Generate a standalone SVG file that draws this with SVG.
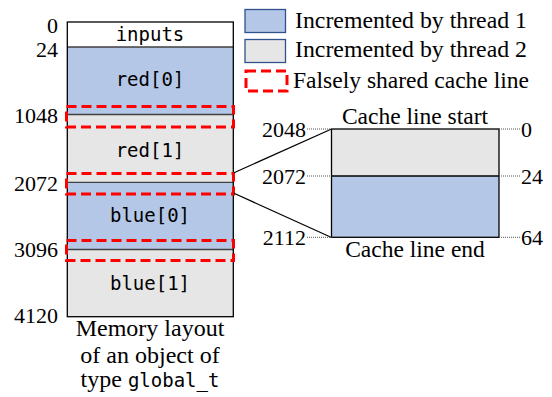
<svg xmlns="http://www.w3.org/2000/svg" width="552" height="397" viewBox="0 0 552 397">
<style>
.serif{font-family:"Liberation Serif","Times New Roman",serif;fill:#000}
.mono{font-family:"DejaVu Sans Mono","Liberation Mono",monospace;fill:#000}
.blue{fill:#B4C7E7}
.gray{fill:#E7E6E6}
.sep{stroke:#404040;stroke-width:1.3}
.dash{fill:none;stroke:#FF0000;stroke-width:3;stroke-dasharray:10 5}
.dot{stroke:#555;stroke-width:1;stroke-dasharray:1 1}
.conn{stroke:#000;stroke-width:1.2;fill:none}
</style>
<rect width="552" height="397" fill="#fff"/>

<g id="legend">
  <rect x="245" y="9.5" width="40.5" height="23" class="blue" stroke="#2F528F" stroke-width="1.3"/>
  <text x="295" y="27.5" class="serif" font-size="22.5" textLength="232" lengthAdjust="spacingAndGlyphs">Incremented by thread 1</text>
  <rect x="245" y="39.5" width="40.5" height="23" class="gray" stroke="#2F528F" stroke-width="1.3"/>
  <text x="295" y="57" class="serif" font-size="22.5" textLength="232" lengthAdjust="spacingAndGlyphs">Incremented by thread 2</text>
  <rect x="246" y="71" width="41" height="20" class="dash"/>
  <text x="293" y="87.5" class="serif" font-size="22.5" textLength="236" lengthAdjust="spacingAndGlyphs">Falsely shared cache line</text>
</g>

<g id="memory-layout">
  <rect x="67.3" y="22" width="166" height="25" fill="#fff"/>
  <rect x="67.3" y="47" width="166" height="67.5" class="blue"/>
  <rect x="67.3" y="114.5" width="166" height="67.8" class="gray"/>
  <rect x="67.3" y="182.3" width="166" height="67.2" class="blue"/>
  <rect x="67.3" y="249.5" width="166" height="67.2" class="gray"/>
  <line x1="67.3" y1="47" x2="233.3" y2="47" class="sep"/>
  <line x1="67.3" y1="114.5" x2="233.3" y2="114.5" class="sep"/>
  <line x1="67.3" y1="182.3" x2="233.3" y2="182.3" class="sep"/>
  <line x1="67.3" y1="249.5" x2="233.3" y2="249.5" class="sep"/>
  <rect x="67.3" y="22" width="166" height="294.7" fill="none" stroke="#000" stroke-width="1.3"/>
  <text x="150" y="41" class="mono" font-size="19" text-anchor="middle">inputs</text>
  <text x="150" y="86" class="mono" font-size="19" text-anchor="middle">red[0]</text>
  <text x="150" y="157" class="mono" font-size="19" text-anchor="middle">red[1]</text>
  <text x="150" y="222" class="mono" font-size="19" text-anchor="middle">blue[0]</text>
  <text x="150" y="290" class="mono" font-size="19" text-anchor="middle">blue[1]</text>
  <g class="serif" font-size="22" text-anchor="end">
    <text x="58" y="33">0</text>
    <text x="58" y="57">24</text>
    <text x="58" y="123">1048</text>
    <text x="58" y="191">2072</text>
    <text x="58" y="257">3096</text>
    <text x="58" y="323">4120</text>
  </g>
  <text x="150" y="336" class="serif" font-size="24" text-anchor="middle">Memory layout</text>
  <text x="150" y="363" class="serif" font-size="24" text-anchor="middle">of an object of</text>
  <text x="150" y="387" class="serif" font-size="24" text-anchor="middle">type <tspan class="mono" font-size="19">global_t</tspan></text>
</g>

<g id="false-sharing">
  <rect x="66.5" y="106.5" width="167" height="20.5" class="dash"/>
  <rect x="66.5" y="173.5" width="167" height="20.5" class="dash"/>
  <rect x="66.5" y="240.5" width="167" height="20" class="dash"/>
</g>

<g id="connectors">
  <line x1="234" y1="172.7" x2="331" y2="129.3" class="conn"/>
  <line x1="234" y1="193.3" x2="331" y2="237.3" class="conn"/>
</g>

<g id="cache-line">
  <rect x="331.5" y="129" width="167.5" height="47" class="gray"/>
  <rect x="331.5" y="176" width="167.5" height="61.3" class="blue"/>
  <line x1="331.5" y1="176" x2="499" y2="176" stroke="#000" stroke-width="1.3"/>
  <rect x="331.5" y="129" width="167.5" height="108.3" fill="none" stroke="#000" stroke-width="1.3"/>
  <line x1="307" y1="129" x2="331.5" y2="129" class="dot"/>
  <line x1="307" y1="176" x2="331.5" y2="176" class="dot"/>
  <line x1="307" y1="237.3" x2="331.5" y2="237.3" class="dot"/>
  <line x1="499" y1="129" x2="520" y2="129" class="dot"/>
  <line x1="499" y1="176" x2="520" y2="176" class="dot"/>
  <line x1="499" y1="237.3" x2="520" y2="237.3" class="dot"/>
  <g class="serif" font-size="22" text-anchor="end">
    <text x="306" y="137">2048</text>
    <text x="306" y="184">2072</text>
    <text x="306" y="245">2112</text>
  </g>
  <g class="serif" font-size="22">
    <text x="521" y="137">0</text>
    <text x="521" y="184">24</text>
    <text x="521" y="245">64</text>
  </g>
  <text x="415" y="124" class="serif" font-size="23.5" text-anchor="middle">Cache line start</text>
  <text x="415" y="257" class="serif" font-size="23.5" text-anchor="middle">Cache line end</text>
</g>
</svg>
